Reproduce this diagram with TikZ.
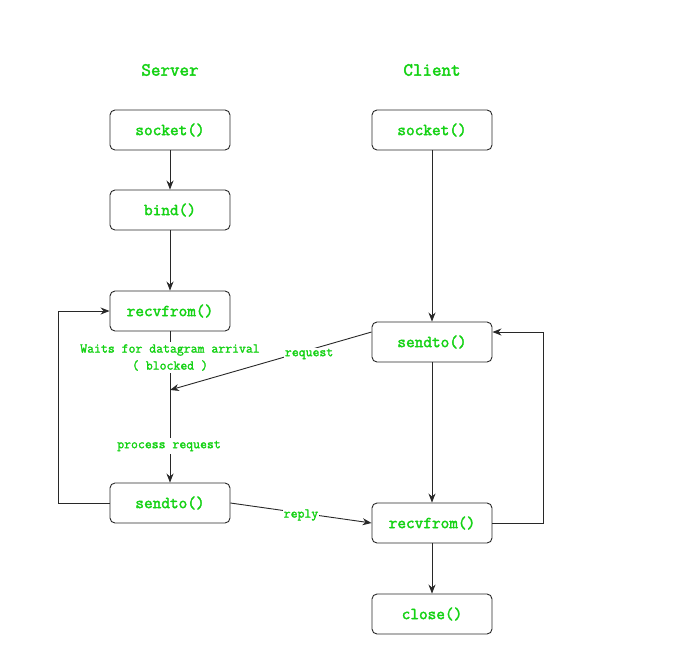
\documentclass[tikz,border=0pt]{standalone}
\usepackage{fontspec}
\newfontfamily\courb[FakeBold=2.2]{Latin Modern Mono}
\newfontfamily\courc[FakeBold=1.8]{Latin Modern Mono}
\usetikzlibrary{arrows.meta,calc}
\definecolor{txtgreen}{RGB}{20,210,20}
\definecolor{linegray}{RGB}{40,40,40}
\tikzset{
  box/.style={draw=linegray, line width=0.9pt, rounded corners=5pt, minimum width=120pt, minimum height=40pt, inner sep=0pt, text=txtgreen, font=\courb\fontsize{16.8}{18}\selectfont},
  heading/.style={text=txtgreen, font=\courb\fontsize{18.5}{20}\selectfont, inner sep=0pt},
  lbl/.style={text=txtgreen, font=\courc\fontsize{13.4}{15}\selectfont, fill=white, inner sep=1pt},
  conn/.style={draw=linegray, line width=0.9pt},
  arr/.style={conn, -{Stealth[length=9pt,width=7pt]}}
}
\begin{document}
\begin{tikzpicture}[x=1pt,y=-1pt]
\useasboundingbox[fill=white] (0,0) rectangle (695,654);
% headings
\node[heading] (hs) at (170,70) {Server};
\node[heading] (hc) at (432,70) {Client};
% server boxes
\node[box] (ssock) at (170,130) {socket()};
\node[box] (sbind) at (170,210) {bind()};
\node[box] (srecv) at (170,311) {recvfrom()};
\node[box] (ssend) at (170,503) {sendto()};
% client boxes
\node[box] (csock) at (432,130) {socket()};
\node[box] (csend) at (432,342) {sendto()};
\node[box] (crecv) at (432,523) {recvfrom()};
\node[box] (cclose) at (432,614) {close()};
% coordinates
\coordinate (reqend) at (170,390);
\coordinate (reqstart) at ($(csend.west)+(0,-10)$);
\coordinate (loopin) at ($(csend.east)+(0,-10)$);
% server flow
\draw[arr] (ssock) -- (sbind);
\draw[arr] (sbind) -- (srecv);
\draw[arr] (srecv.south) -- (ssend.north);
\node[lbl, align=center, inner sep=2pt] (wait) at (170,357.5) {Waits for datagram arrival\\[2pt]( blocked )};
\node[lbl, inner sep=3pt] (proc) at (169,446) {process request};
\draw[arr] (ssend.west) -- ++(-51,0) |- (srecv.west);
% client flow
\draw[arr] (csock) -- (csend);
\draw[arr] (csend) -- (crecv);
\draw[arr] (crecv) -- (cclose);
\draw[arr] (crecv.east) -- ++(51,0) |- (loopin);
% cross connectors
\draw[arr] (reqstart) -- node[lbl, pos=0.31, yshift=-4pt] (reqlbl) {request} (reqend);
\draw[arr] (ssend.east) -- node[lbl, pos=0.5, yshift=-2pt] (replbl) {reply} (crecv.west);
\end{tikzpicture}
\end{document}
